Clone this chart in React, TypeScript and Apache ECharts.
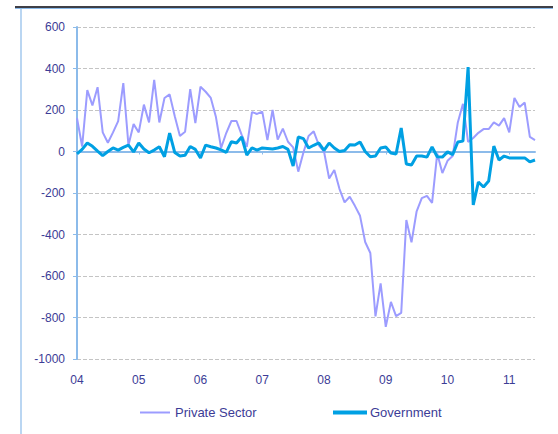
import React, { useEffect, useRef } from "react";
import * as echarts from "echarts";

const startYear = 2004;
const monthCount = 90;
const yearLabels = ["04", "05", "06", "07", "08", "09", "10", "11"];

const privateSector = [
  161, 24, 296, 222, 310, 92, 42, 92, 146, 330, 30, 132,
  92, 226, 140, 345, 140, 258, 275, 170, 75, 95, 301, 137,
  312, 288, 258, 166, 17, 89, 147, 147, 80, 22, 190, 181,
  192, 55, 200, 57, 110, 47, 20, -97, -5, 75, 97, 30,
  0, -130, -89, -180, -245, -218, -262, -310, -436, -489, -795, -636,
  -845, -725, -793, -778, -330, -438, -288, -225, -214, -248, -10, -104,
  -45, -22, 140, 230, 46, 65, 90, 108, 108, 140, 125, 161,
  92, 258, 214, 236, 70, 55,
];

const government = [
  -12, 10, 41, 25, 2, -20, 0, 17, 7, 20, 31, -2,
  41, 12, -6, 7, 23, -25, 89, -5, -22, -18, 24, 10,
  -31, 31, 23, 17, 8, -4, 47, 41, 70, -17, 17, 7,
  17, 15, 12, 17, 24, 10, -70, 70, 62, 17, 30, 41,
  5, 41, 17, 0, 5, 33, 31, 46, 0, -25, -22, 17,
  22, -7, -12, 113, -60, -65, -22, -22, -27, 22, -25, -27,
  -2, -15, 46, 50, 407, -258, -147, -171, -142, 26, -41, -22,
  -31, -31, -31, -31, -50, -41,
];

const categories: string[] = [];
for (let i = 0; i < monthCount; i++) {
  const y = startYear + Math.floor(i / 12);
  const m = (i % 12) + 1;
  categories.push(`${y}-${m < 10 ? "0" + m : m}`);
}

const textColor = "#3c3c96";
const axisBlue = "#8cbbea";
const font = "'Liberation Sans', Arial, sans-serif";

export default function App() {
  const ref = useRef<HTMLDivElement>(null);
  useEffect(() => {
    if (!ref.current) return;
    const chart = echarts.init(ref.current, undefined, { renderer: "svg" });
    chart.setOption({
      animation: false,
      backgroundColor: "#ffffff",
      textStyle: { fontFamily: font },
      grid: { left: 77, right: 23, top: 27, bottom: 75, containLabel: false },
      graphic: [
        { type: "line", shape: { x1: 15, y1: 7, x2: 553, y2: 7 }, style: { stroke: "#3f3f46", lineWidth: 2 } },
        { type: "line", shape: { x1: 15, y1: 8.5, x2: 553, y2: 8.5 }, style: { stroke: axisBlue, lineWidth: 1 } },
        { type: "line", shape: { x1: 21, y1: 8, x2: 21, y2: 434 }, style: { stroke: axisBlue, lineWidth: 1.2 } },
      ],
      legend: [
        {
          data: [{ name: "Private Sector", icon: "rect" }],
          left: 135,
          top: 401,
          itemWidth: 30,
          itemHeight: 2,
          itemGap: 5,
          textStyle: { color: textColor, fontSize: 13, fontFamily: font, padding: [0, 0, 0, 0] },
        },
        {
          data: [{ name: "Government", icon: "rect" }],
          left: 328,
          top: 401,
          itemWidth: 34,
          itemHeight: 4,
          textStyle: { color: textColor, fontSize: 13, fontFamily: font, padding: [0, 0, 0, -2] },
        },
      ],
      xAxis: [
        {
          type: "category",
          data: categories,
          boundaryGap: false,
          axisLine: { onZero: true, lineStyle: { color: axisBlue, width: 2 } },
          axisTick: { show: true, interval: (i: number) => i % 12 === 0 && i > 0, length: 3, inside: false, lineStyle: { color: axisBlue } },
          axisLabel: { show: false },
          splitLine: { show: false },
        },
        {
          type: "category",
          data: categories,
          boundaryGap: false,
          position: "bottom",
          axisLine: { show: false, onZero: false },
          axisTick: { show: false },
          axisLabel: {
            show: true,
            interval: (i: number) => i % 12 === 0,
            formatter: (v: string, i: number) => yearLabels[Math.floor(i / 12)],
            color: textColor,
            fontSize: 12,
            fontFamily: font,
            margin: 15,
          },
          splitLine: { show: false },
        },
      ],
      yAxis: {
        type: "value",
        min: -1000,
        max: 600,
        interval: 200,
        axisLine: { show: true, lineStyle: { color: axisBlue, width: 2 } },
        axisTick: { show: true, length: 4, lineStyle: { color: axisBlue } },
        axisLabel: { color: textColor, fontSize: 12, fontFamily: font, margin: 12, formatter: (v: number) => String(v) },
        splitLine: { show: true, lineStyle: { color: "#c4c4c4", type: "dashed", width: 1 } },
      },
      series: [
        {
          name: "Private Sector",
          type: "line",
          data: privateSector,
          xAxisIndex: 0,
          showSymbol: false,
          symbol: "none",
          lineStyle: { color: "#9c9cff", width: 2 },
          itemStyle: { color: "#9c9cff" },
          z: 2,
        },
        {
          name: "Government",
          type: "line",
          data: government,
          xAxisIndex: 0,
          showSymbol: false,
          symbol: "none",
          lineStyle: { color: "#00a0e3", width: 3 },
          itemStyle: { color: "#00a0e3" },
          z: 3,
        },
      ],
    });
    return () => chart.dispose();
  }, []);
  return <div ref={ref} style={{ width: 558, height: 434, position: "absolute", left: 0, top: 0 }} />;
}
